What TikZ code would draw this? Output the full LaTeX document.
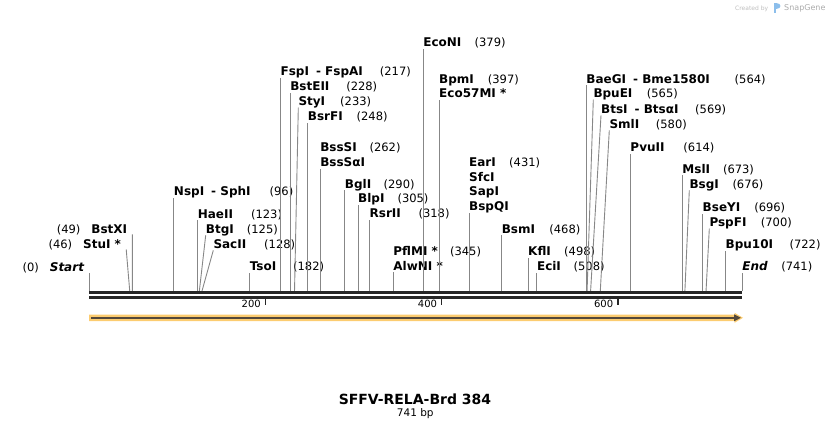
\documentclass[tikz,border=0pt]{standalone}
\usepackage{fontspec}
\setmainfont{DejaVu Sans}
\usetikzlibrary{arrows.meta}

\definecolor{cutgray}{RGB}{135,135,135}
\definecolor{bbcolor}{RGB}{38,38,38}
\definecolor{featfill}{RGB}{252,204,112}
\definecolor{featline}{RGB}{84,72,58}
\definecolor{wmark}{RGB}{190,190,190}
\definecolor{wlogo}{RGB}{140,190,235}

\newcommand{\site}[3]{\makebox[#2pt][l]{\bfseries #1}{\fontsize{11.5}{14}\selectfont(#3)}}
\newcommand{\siteleft}[2]{{\fontsize{11.5}{14}\selectfont(#2)}\hspace{11pt}{\bfseries #1}}

\tikzset{
	enz/.style={font=\fontsize{12}{14}\selectfont, inner sep=0pt, anchor=base west},
	enzleft/.style={enz, anchor=base east},
	cut/.style={draw=cutgray, line width=0.9pt},
	bbline/.style={draw=bbcolor, line width=3pt},
	tick/.style={draw=bbcolor, line width=1.5pt},
	ticklbl/.style={font=\fontsize{10}{12}\selectfont, inner sep=0pt, anchor=east},
}

\begin{document}
\begin{tikzpicture}[x=1pt,y=-1pt]
	\useasboundingbox (0,0) rectangle (832,430);
	% cut positions on the backbone
	\foreach \b in {0,46,49,96,123,125,128,182,217,228,233,248,262,290,305,318,345,379,397,431,468,498,508,564,565,569,580,614,673,676,696,700,722,741}
		\coordinate (p\b) at ({89.2+0.8812*\b},291);

	% left hand labels
	\node [enzleft] (start) at (84.2,271.5) {\siteleft{\itshape Start}{0}};
	\node [enzleft] (stui) at (121.2,248.3) {\siteleft{StuI *}{46}};
	\node [enzleft] (bstxi) at (127.4,233.3) {\siteleft{BstXI}{49}};
	\draw [cut] (p0) -- ([xshift=5pt,yshift=-1pt]start.base east);
	\draw [cut] (p46) -- ([xshift=5pt,yshift=-1pt]stui.base east);
	\draw [cut] (p49) -- ([xshift=5pt,yshift=-1pt]bstxi.base east);

	% right hand labels
	\node [enz] (nspi) at (p96 |- 0,196) {\site{NspI\hspace{7pt}- SphI}{95.7}{96}};
	\node [enz] (haeii) at (p123 |- 0,218.3) {\site{HaeII}{53.3}{123}};
	\node [enz] (btgi) at (205.7,233.3) {\site{BtgI}{41}{125}};
	\node [enz] (sacii) at (213.3,248.3) {\site{SacII}{50.7}{128}};
	\node [enz] (tsoi) at (p182 |- 0,270.7) {\site{TsoI}{43.4}{182}};
	\node [enz] (fspi) at (p217 |- 0,76) {\site{FspI\hspace{7pt}- FspAI}{99.3}{217}};
	\node [enz] (bsteii) at (p228 |- 0,90.7) {\site{BstEII}{56}{228}};
	\node [enz] (styi) at (298.3,105.7) {\site{StyI}{41.7}{233}};
	\node [enz] (bsrfi) at (p248 |- 0,120.7) {\site{BsrFI}{48.7}{248}};
	\node [enz] (bsssi) at (p262 |- 0,151.7) {\site{BssSI}{49.3}{262}};
	\node [enz] (bsssai) at (p262 |- 0,166.7) {\bfseries BssSαI};
	\node [enz] (bgli) at (p290 |- 0,188.3) {\site{BglI}{38.7}{290}};
	\node [enz] (blpi) at (p305 |- 0,202.7) {\site{BlpI}{39.4}{305}};
	\node [enz] (rsrii) at (p318 |- 0,217.7) {\site{RsrII}{49}{318}};
	\node [enz] (pflmi) at (p345 |- 0,256) {\site{PflMI *}{56.7}{345}};
	\node [enz] (alwni) at (p345 |- 0,270) {\bfseries AlwNI *};
	\node [enz] (econi) at (p379 |- 0,46.7) {\site{EcoNI}{51.3}{379}};
	\node [enz] (bpmi) at (p397 |- 0,83.3) {\site{BpmI}{48.7}{397}};
	\node [enz] (eco57mi) at (p397 |- 0,98) {\bfseries Eco57MI *};
	\node [enz] (eari) at (p431 |- 0,166.5) {\site{EarI}{40}{431}};
	\node [enz] (sfci) at (p431 |- 0,181.2) {\bfseries SfcI};
	\node [enz] (sapi) at (p431 |- 0,195.9) {\bfseries SapI};
	\node [enz] (bspqi) at (p431 |- 0,210.6) {\bfseries BspQI};
	\node [enz] (bsmi) at (p468 |- 0,233.3) {\site{BsmI}{47.6}{468}};
	\node [enz] (kfli) at (p498 |- 0,256) {\site{KflI}{36}{498}};
	\node [enz] (ecii) at (p508 |- 0,271) {\site{EciI}{36.6}{508}};
	\node [enz] (baegi) at (p564 |- 0,83.3) {\site{BaeGI\hspace{7pt}- Bme1580I}{148.3}{564}};
	\node [enz] (bpuei) at (593.3,97.7) {\site{BpuEI}{53.4}{565}};
	\node [enz] (btsi) at (601,113.3) {\site{BtsI\hspace{7pt}- BtsαI}{94}{569}};
	\node [enz] (smli) at (609.3,128.3) {\site{SmlI}{46.4}{580}};
	\node [enz] (pvuii) at (p614 |- 0,151.7) {\site{PvuII}{53}{614}};
	\node [enz] (msli) at (p673 |- 0,173.3) {\site{MslI}{40.6}{673}};
	\node [enz] (bsgi) at (689.3,188.3) {\site{BsgI}{43}{676}};
	\node [enz] (bseyi) at (p696 |- 0,211.7) {\site{BseYI}{51.6}{696}};
	\node [enz] (pspfi) at (709.3,226.7) {\site{PspFI}{51.4}{700}};
	\node [enz] (bpu10i) at (p722 |- 0,249) {\site{Bpu10I}{64}{722}};
	\node [enz] (end) at (p741 |- 0,271) {\site{\itshape End}{39}{741}};

	% connectors from the cut sites
	\draw [cut] (p96) -- ([yshift=-2pt]nspi.base west);
	\draw [cut] (p123) -- ([yshift=-2pt]haeii.base west);
	\draw [cut] (p125) -- ([yshift=-2pt]btgi.base west);
	\draw [cut] (p128) -- ([yshift=-2pt]sacii.base west);
	\draw [cut] (p182) -- ([yshift=-2pt]tsoi.base west);
	\draw [cut] (p217) -- ([yshift=-2pt]fspi.base west);
	\draw [cut] (p228) -- ([yshift=-2pt]bsteii.base west);
	\draw [cut] (p233) -- ([yshift=-2pt]styi.base west);
	\draw [cut] (p248) -- ([yshift=-2pt]bsrfi.base west);
	\draw [cut] (p262) -- ([yshift=-2pt]bsssai.base west);
	\draw [cut] (p290) -- ([yshift=-2pt]bgli.base west);
	\draw [cut] (p305) -- ([yshift=-2pt]blpi.base west);
	\draw [cut] (p318) -- ([yshift=-2pt]rsrii.base west);
	\draw [cut] (p345) -- ([yshift=-2pt]alwni.base west);
	\draw [cut] (p379) -- ([yshift=-2pt]econi.base west);
	\draw [cut] (p397) -- ([yshift=-2pt]eco57mi.base west);
	\draw [cut] (p431) -- ([yshift=-2pt]bspqi.base west);
	\draw [cut] (p468) -- ([yshift=-2pt]bsmi.base west);
	\draw [cut] (p498) -- ([yshift=-2pt]kfli.base west);
	\draw [cut] (p508) -- ([yshift=-2pt]ecii.base west);
	\draw [cut] (p564) -- ([yshift=-2pt]baegi.base west);
	\draw [cut] (p565) -- ([yshift=-2pt]bpuei.base west);
	\draw [cut] (p569) -- ([yshift=-2pt]btsi.base west);
	\draw [cut] (p580) -- ([yshift=-2pt]smli.base west);
	\draw [cut] (p614) -- ([yshift=-2pt]pvuii.base west);
	\draw [cut] (p673) -- ([yshift=-2pt]msli.base west);
	\draw [cut] (p676) -- ([yshift=-2pt]bsgi.base west);
	\draw [cut] (p696) -- ([yshift=-2pt]bseyi.base west);
	\draw [cut] (p700) -- ([yshift=-2pt]pspfi.base west);
	\draw [cut] (p722) -- ([yshift=-2pt]bpu10i.base west);
	\draw [cut] (p741) -- ([yshift=-2pt]end.base west);

	% backbone and ruler
	\draw [bbline] ([yshift=-1.6pt]p0) -- ([yshift=-1.6pt]p741);
	\draw [bbline] ([yshift=-6pt]p0) -- ([yshift=-6pt]p741);
	\foreach \t in {200,400,600} {
		\draw [tick] ({89.2+0.8812*\t},298) -- ({89.2+0.8812*\t},304.5);
		\node [ticklbl] (tk\t) at ({89.2+0.8812*\t-4.5},304) {\t};
	}

	% feature arrow
	\fill [featfill] (89,314.6) -- (734.5,314.6) -- (734.5,312.8) -- (743,317.8) -- (734.5,322.8) -- (734.5,321) -- (89,321) -- cycle;
	\draw [featline, line width=2.4pt, -{Triangle[length=7pt,width=6.5pt]}] (91,317.8) -- (741,317.8);

	% name and length
	\node [font=\fontsize{14}{16}\selectfont\bfseries, inner sep=0pt, anchor=base] (mapname) at (415,404) {SFFV-RELA-Brd 384};
	\node [font=\fontsize{10.5}{12}\selectfont, inner sep=0pt, anchor=base] (maplen) at (415.3,416.7) {741 bp};

	% watermark
	\node [font=\fontsize{6}{7}\selectfont, text=wmark, inner sep=0pt, anchor=base west] (createdby) at (735,10.5) {Created by};
	\fill [wlogo] (774,3) rectangle (776.3,13.5);
	\fill [wlogo] (776.3,3) .. controls (781.5,3) and (781.5,9.5) .. (776.3,9.5) -- cycle;
	\node [font=\fontsize{8}{9}\selectfont, text=wmark!90!black, inner sep=0pt, anchor=base west] (snapgene) at (784,11) {SnapGene};
\end{tikzpicture}
\end{document}
